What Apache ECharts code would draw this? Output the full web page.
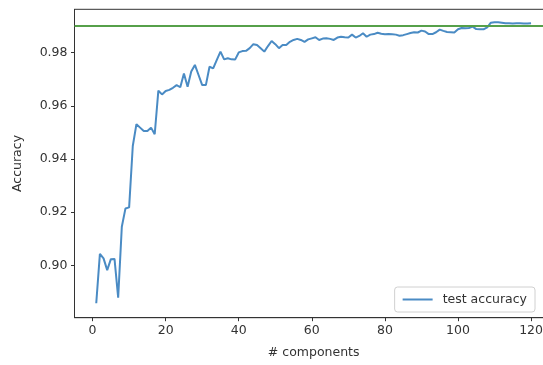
<!DOCTYPE html>
<html>
<head>
<meta charset="utf-8">
<script src="https://cdn.jsdelivr.net/npm/echarts@6/dist/echarts.min.js"></script>
<style>
  html, body { margin: 0; padding: 0; background: #ffffff; }
  #chart { width: 543px; height: 365px; }
</style>
</head>
<body>
<div id="chart"></div>
<script>
// Test accuracy measured for each number of retained components (1..120)
const accuracy = [
  0.8857, 0.9043, 0.9026, 0.8982, 0.9023, 0.9024, 0.8878, 0.9145, 0.9214, 0.9218,
  0.9449, 0.9531, 0.9518, 0.9505, 0.9505, 0.9518, 0.9493, 0.9657, 0.9643, 0.9656,
  0.9660, 0.9668, 0.9678, 0.9670, 0.9722, 0.9672, 0.9729, 0.9754, 0.9716, 0.9678,
  0.9678, 0.9747, 0.9741, 0.9773, 0.9804, 0.9775, 0.9779, 0.9775, 0.9774, 0.9801,
  0.9806, 0.9807, 0.9817, 0.9832, 0.9829, 0.9817, 0.9804, 0.9825, 0.9844, 0.9832,
  0.9817, 0.9829, 0.9829, 0.9841, 0.9848, 0.9852, 0.9848, 0.9841, 0.9850, 0.9854,
  0.9858, 0.9848, 0.9853, 0.9854, 0.9852, 0.9848, 0.9857, 0.9860, 0.9858, 0.9857,
  0.9868, 0.9857, 0.9863, 0.9873, 0.9860, 0.9868, 0.9870, 0.9875, 0.9871, 0.9869,
  0.9870, 0.9869, 0.9868, 0.9864, 0.9866, 0.9870, 0.9874, 0.9877, 0.9876, 0.9883,
  0.9880, 0.9870, 0.9870, 0.9877, 0.9887, 0.9882, 0.9878, 0.9877, 0.9876, 0.9888,
  0.9893, 0.9892, 0.9893, 0.9898, 0.9889, 0.9888, 0.9888, 0.9895, 0.9913, 0.9915,
  0.9915, 0.9913, 0.9911, 0.9911, 0.9910, 0.9911, 0.9911, 0.9910, 0.9910, 0.9911
];
// Number of components for each accuracy value
const components = accuracy.map((_, i) => i + 1);

// Reference accuracy drawn as a horizontal line across the plot
const referenceAccuracy = 0.9911;

// Tick positions shown on each axis
const xTicks = [0, 20, 40, 60, 80, 100, 120];
const yTicks = [0.90, 0.92, 0.94, 0.96, 0.98];

const FONT = '"DejaVu Sans", sans-serif';
const TEXT = '#333333';

const chart = echarts.init(document.getElementById('chart'), null, { renderer: 'canvas' });

chart.setOption({
  animation: false,
  backgroundColor: '#ffffff',
  textStyle: { fontFamily: FONT },
  grid: {
    left: 74.5,
    top: 9.3,
    width: 478.3,
    height: 308.4,
    outerBoundsMode: 'none',
    containLabel: false,
    show: true,
    borderColor: '#333333',
    borderWidth: 1,
    backgroundColor: 'transparent'
  },
  legend: {
    data: ['test accuracy'],
    right: 8,
    bottom: 53,
    icon: 'rect',
    itemWidth: 30,
    itemHeight: 2,
    padding: [6, 8, 6, 8],
    borderColor: '#d0d0d0',
    borderWidth: 1,
    borderRadius: 3,
    backgroundColor: 'rgba(255,255,255,0.85)',
    textStyle: { fontFamily: FONT, fontSize: 12.5, color: TEXT, padding: [0, 0, 0, 5] }
  },
  xAxis: {
    type: 'value',
    min: -4.95,
    max: 125.95,
    name: '# components',
    nameLocation: 'middle',
    nameGap: 29,
    nameTextStyle: { fontFamily: FONT, fontSize: 12.5, color: TEXT },
    axisLine: { show: true, onZero: false, lineStyle: { color: '#333333', width: 1 } },
    axisTick: { show: true, length: 3.5, customValues: xTicks, lineStyle: { color: '#333333' } },
    axisLabel: { show: true, customValues: xTicks, margin: 7, fontFamily: FONT, fontSize: 12.5, color: TEXT },
    splitLine: { show: false }
  },
  yAxis: {
    type: 'value',
    min: 0.88028,
    max: 0.99633,
    name: 'Accuracy',
    nameLocation: 'middle',
    nameGap: 50,
    nameRotate: 90,
    nameTextStyle: { fontFamily: FONT, fontSize: 12.5, color: TEXT },
    axisLine: { show: true, onZero: false, lineStyle: { color: '#333333', width: 1 } },
    axisTick: { show: true, length: 3.5, customValues: yTicks, lineStyle: { color: '#333333' } },
    axisLabel: {
      show: true,
      customValues: yTicks,
      margin: 7,
      fontFamily: FONT,
      fontSize: 12.5,
      color: TEXT,
      formatter: v => v.toFixed(2)
    },
    splitLine: { show: false }
  },
  series: [
    {
      name: 'test accuracy',
      type: 'line',
      data: components.map((c, i) => [c, accuracy[i]]),
      symbol: 'none',
      showSymbol: false,
      color: '#4a8bc4',
      lineStyle: { color: '#4a8bc4', width: 2 },
      markLine: {
        silent: true,
        symbol: 'none',
        label: { show: false },
        lineStyle: { color: '#56a04a', width: 2, type: 'solid' },
        data: [{ yAxis: referenceAccuracy }]
      }
    }
  ]
});
</script>
</body>
</html>
